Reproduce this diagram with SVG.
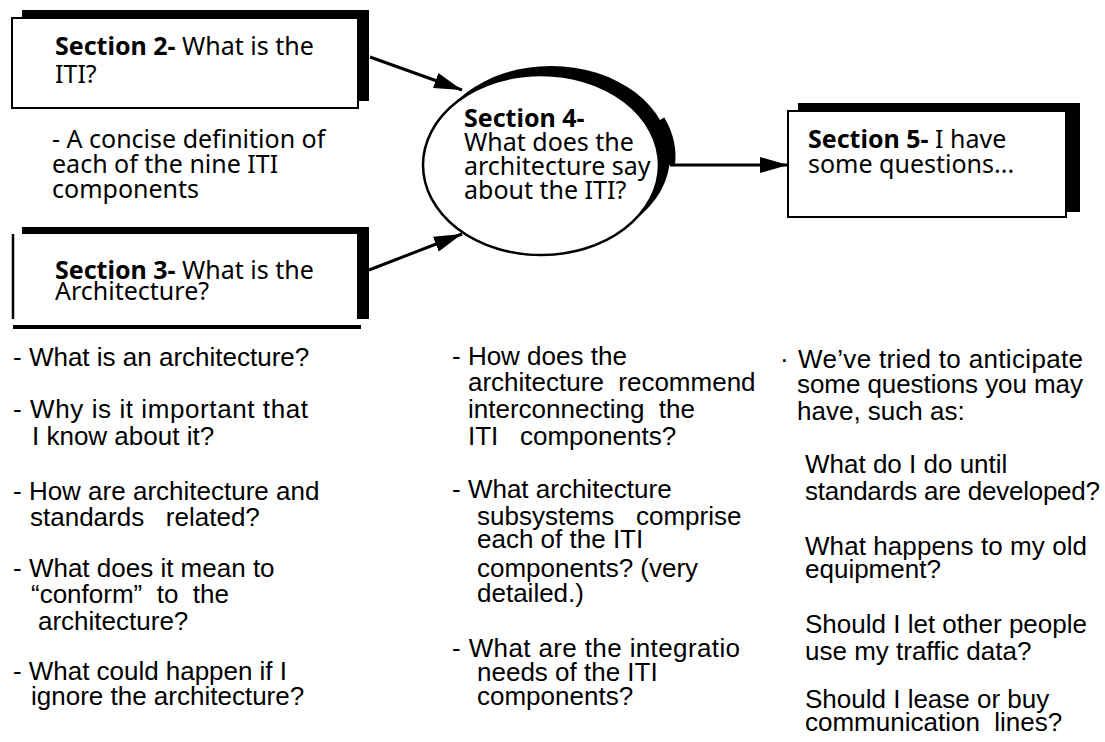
<svg xmlns="http://www.w3.org/2000/svg" width="1105" height="742" viewBox="0 0 1105 742">
  <style>
    .head { font-family: "Noto Sans", "DejaVu Sans", sans-serif; font-size: 25px; fill: #000; }
    .head .b { font-weight: bold; }
    .body { font-family: "Liberation Sans", Arial, sans-serif; font-size: 26px; fill: #000; }
    .shadow { fill: #000; stroke: none; }
    .card { fill: #fff; stroke: #000; stroke-width: 2; }
    .conn { stroke: #000; stroke-width: 3; fill: none; marker-end: url(#arrow); }
  </style>
  <defs>
    <marker id="arrow" markerUnits="userSpaceOnUse" markerWidth="28" markerHeight="16" refX="28" refY="8" orient="auto">
      <path d="M0,0 L28,8 L0,16 z" fill="#000"/>
    </marker>
  </defs>
  <rect width="1105" height="742" fill="#fff"/>

  <!-- Section 2 box -->
  <g id="section2">
    <rect class="shadow" x="22" y="10" width="347" height="91"/>
    <rect class="card" x="12" y="18" width="346" height="90"/>
    <text class="head" x="55" y="55"><tspan class="b">Section 2-</tspan> What is the</text>
    <text class="head" x="55" y="83">ITI?</text>
    <text class="head" x="52" y="148">- A concise definition of</text>
    <text class="head" x="52" y="173">each of the nine ITI</text>
    <text class="head" x="52" y="198">components</text>
  </g>

  <!-- Section 3 box -->
  <g id="section3">
    <rect class="shadow" x="22" y="227" width="347" height="92"/>
    <rect x="12" y="234" width="345" height="85" fill="#fff"/>
    <path d="M13,234 V319" stroke="#000" stroke-width="2.5" fill="none"/>
    <rect class="shadow" x="13" y="325" width="348" height="4"/>
    <text class="head" x="55" y="279"><tspan class="b">Section 3-</tspan> What is the</text>
    <text class="head" x="55" y="300">Architecture?</text>
  </g>

  <!-- Section 4 ellipse -->
  <g id="section4">
    <ellipse class="shadow" cx="551" cy="156" rx="119" ry="90"/>
    <ellipse cx="541" cy="165" rx="118" ry="90" fill="#fff" stroke="#000" stroke-width="2.5"/>
    <text class="head" x="464" y="127"><tspan class="b">Section 4-</tspan></text>
    <text class="head" x="464" y="151">What does the</text>
    <text class="head" x="464" y="175">architecture say</text>
    <text class="head" x="464" y="199">about the ITI?</text>
    <path d="M660,120 A119,90 0 0 1 670,165" stroke="#000" stroke-width="10" fill="none"/>
  </g>

  <!-- Section 5 box -->
  <g id="section5">
    <rect class="shadow" x="798" y="103" width="282" height="109"/>
    <rect class="card" x="788" y="111" width="278" height="106"/>
    <text class="head" x="808" y="148"><tspan class="b">Section 5-</tspan> I have</text>
    <text class="head" x="808" y="173">some questions...</text>
  </g>

  <!-- Connectors -->
  <g id="connectors">
    <line class="conn" x1="370" y1="57" x2="462" y2="90"/>
    <line class="conn" x1="369" y1="270" x2="462" y2="234"/>
    <line class="conn" x1="670" y1="165" x2="788" y2="165"/>
  </g>

  <!-- Notes under Section 3 -->
  <g id="notes-architecture" class="body">
    <text x="13" y="366">- What is an architecture?</text>
    <text x="13" y="418" textLength="295">- Why is it important that</text>
    <text x="32" y="445">I know about it?</text>
    <text x="13" y="500">- How are architecture and</text>
    <text x="30" y="526" xml:space="preserve">standards   related?</text>
    <text x="13" y="577">- What does it mean to</text>
    <text x="31" y="603" xml:space="preserve">“conform”  to  the</text>
    <text x="38" y="630">architecture?</text>
    <text x="13" y="680" textLength="274">- What could happen if I</text>
    <text x="31" y="705">ignore the architecture?</text>
  </g>

  <!-- Notes under Section 4 -->
  <g id="notes-itiarch" class="body">
    <text x="452" y="365">- How does the</text>
    <text x="468" y="391" xml:space="preserve">architecture  recommend</text>
    <text x="468" y="418" xml:space="preserve">interconnecting  the</text>
    <text x="468" y="445" xml:space="preserve">ITI   components?</text>
    <text x="452" y="498">- What architecture</text>
    <text x="477" y="525" xml:space="preserve">subsystems   comprise</text>
    <text x="477" y="548">each of the ITI</text>
    <text x="477" y="577">components? (very</text>
    <text x="477" y="602">detailed.)</text>
    <text x="452" y="657" textLength="288">- What are the integratio</text>
    <text x="477" y="681">needs of the ITI</text>
    <text x="477" y="705">components?</text>
  </g>

  <!-- Notes under Section 5 -->
  <g id="notes-questions" class="body">
    <text x="780" y="368">·</text>
    <text x="798" y="368" textLength="285">We’ve tried to anticipate</text>
    <text x="797" y="393" textLength="286">some questions you may</text>
    <text x="797" y="420">have, such as:</text>
    <text x="805" y="473">What do I do until</text>
    <text x="805" y="500" textLength="295">standards are developed?</text>
    <text x="805" y="555" textLength="282">What happens to my old</text>
    <text x="805" y="578">equipment?</text>
    <text x="805" y="633" textLength="282">Should I let other people</text>
    <text x="805" y="660">use my traffic data?</text>
    <text x="805" y="708">Should I lease or buy</text>
    <text x="805" y="731" xml:space="preserve">communication  lines?</text>
  </g>
</svg>
